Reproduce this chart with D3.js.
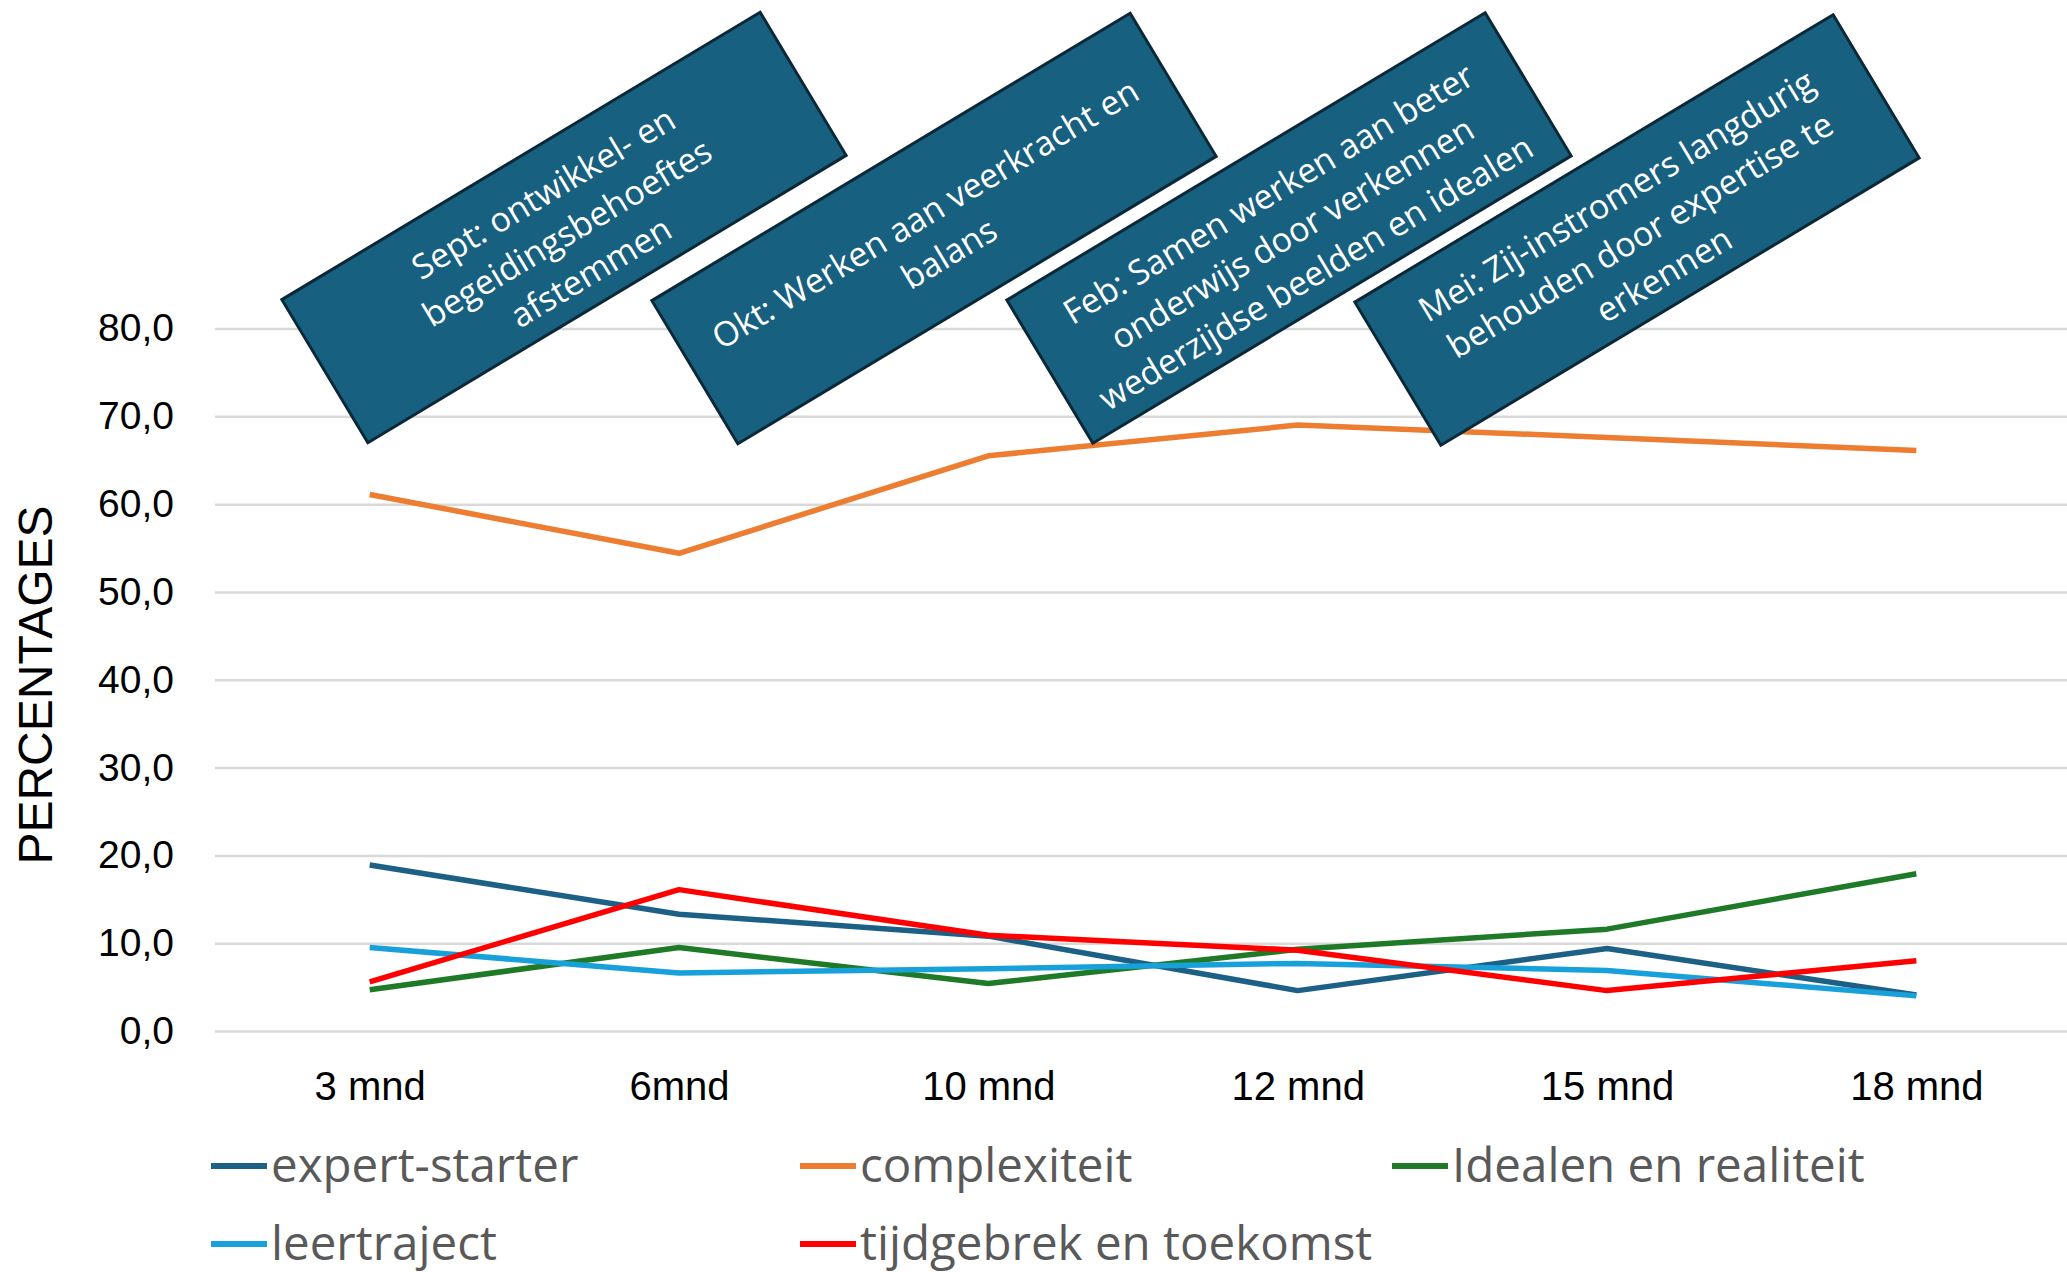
<!DOCTYPE html>
<html>
<head>
<meta charset="utf-8">
<script src="https://cdn.jsdelivr.net/npm/d3@7/dist/d3.min.js"></script>
<style>
body { margin: 0; background: #fff; }
</style>
</head>
<body>
<div id="viz-wrapper"></div>
<script>
var width = 2067;
var height = 1272;

// data
var categories = ['3 mnd', '6mnd', '10 mnd', '12 mnd', '15 mnd', '18 mnd'];
var seriesNames = ['expert-starter', 'complexiteit', 'Idealen en realiteit', 'leertraject', 'tijdgebrek en toekomst'];
var expertStarter = [18.9, 13.3, 10.8, 4.6, 9.4, 4.1];
var complexiteit = [61.1, 54.4, 65.5, 69.0, 67.6, 66.1];
var idealenRealiteit = [4.7, 9.5, 5.4, 9.3, 11.6, 17.9];
var leertraject = [9.5, 6.6, 7.1, 7.7, 6.9, 4.0];
var tijdgebrek = [5.6, 16.1, 10.9, 9.2, 4.6, 8.0];
var yTicks = [0, 10, 20, 30, 40, 50, 60, 70, 80];

// annotation texts
var notes = [
	['Sept: ontwikkel- en', 'begeidingsbehoeftes', 'afstemmen'],
	['Okt: Werken aan veerkracht en', 'balans'],
	['Feb: Samen werken aan beter', 'onderwijs door verkennen', 'wederzijdse beelden en idealen'],
	['Mei: Zij-instromers langdurig', 'behouden door expertise te', 'erkennen']
];

var colors = ['#1D6085', '#ED7D31', '#1E7A26', '#17A0DA', '#FF0000'];
var allSeries = [expertStarter, complexiteit, idealenRealiteit, leertraject, tijdgebrek];

var plot = { left: 215, right: 2071, top: 328.5, bottom: 1031 };

var viz = d3.select('#viz-wrapper').append('svg')
	.attr('width', width).attr('height', height)
	.style('font-family', '"Liberation Sans", Arial, sans-serif');

var x = d3.scalePoint().domain(categories).range([plot.left, plot.right]).padding(0.5);
var y = d3.scaleLinear().domain([0, 80]).range([plot.bottom, plot.top]);

// gridlines + y labels
var yAxis = viz.append('g')
	.attr('transform', 'translate(' + plot.left + ',0)')
	.call(d3.axisLeft(y).tickValues(yTicks).tickSize(-(width - plot.left)).tickPadding(41)
		.tickFormat(function(d) { return d.toFixed(1).replace('.', ','); }));
yAxis.select('.domain').remove();
yAxis.selectAll('.tick line').attr('stroke', '#D9D9D9').attr('stroke-width', 2.5);
yAxis.selectAll('.tick text').attr('fill', '#000').style('font-size', '39px');

// x labels
var xAxis = viz.append('g')
	.attr('transform', 'translate(0,' + plot.bottom + ')')
	.call(d3.axisBottom(x).tickSize(0).tickPadding(41));
xAxis.select('.domain').remove();
xAxis.selectAll('.tick text').attr('fill', '#000').style('font-size', '40px');

// y title
viz.append('text')
	.attr('transform', 'translate(52,685) rotate(-90)')
	.attr('text-anchor', 'middle')
	.style('font-size', '48px')
	.text('PERCENTAGES');

// lines
var line = d3.line()
	.x(function(d, i) { return x(categories[i]); })
	.y(function(d) { return y(d); });

viz.selectAll('path.series').data(allSeries).enter().append('path')
	.attr('class', 'series')
	.attr('d', line)
	.attr('fill', 'none')
	.attr('stroke', function(d, i) { return colors[i]; })
	.attr('stroke-width', 5.5)
	.attr('stroke-linejoin', 'round');

// annotation boxes, drawn on top of the lines
var boxCenters = [[564, 227.5], [934, 228.5], [1289, 228], [1637, 230]];
var boxW = 558, boxH = 167, lineH = 46;

var boxes = viz.selectAll('g.note').data(notes).enter().append('g')
	.attr('class', 'note')
	.attr('transform', function(d, i) {
		return 'translate(' + boxCenters[i][0] + ',' + boxCenters[i][1] + ') rotate(-31)';
	});

boxes.append('rect')
	.attr('x', -boxW / 2).attr('y', -boxH / 2)
	.attr('width', boxW).attr('height', boxH)
	.attr('fill', '#17607F')
	.attr('stroke', '#0B2838')
	.attr('stroke-width', 3);

boxes.each(function(lines) {
	var g = d3.select(this);
	lines.forEach(function(t, j) {
		g.append('text')
			.attr('x', 0)
			.attr('y', (j - (lines.length - 1) / 2) * lineH + 18)
			.attr('text-anchor', 'middle')
			.attr('fill', '#fff')
			.style('font-family', '"Open Sans", sans-serif')
			.style('font-size', '34px')
			.text(t);
	});
});

// legend
var legendCols = [211, 800, 1392];
var legendRows = [1166, 1244];

var legend = viz.selectAll('g.legend').data(seriesNames).enter().append('g')
	.attr('class', 'legend')
	.attr('transform', function(d, i) {
		return 'translate(' + legendCols[i % 3] + ',' + legendRows[Math.floor(i / 3)] + ')';
	});

legend.append('line')
	.attr('x1', 0).attr('x2', 56)
	.attr('y1', 0).attr('y2', 0)
	.attr('stroke', function(d, i) { return colors[i]; })
	.attr('stroke-width', 6);

legend.append('text')
	.attr('x', 60)
	.attr('y', 16)
	.attr('fill', '#595959')
	.style('font-family', '"Open Sans", sans-serif')
	.style('font-size', '47.5px')
	.text(function(d) { return d; });
</script>
</body>
</html>
